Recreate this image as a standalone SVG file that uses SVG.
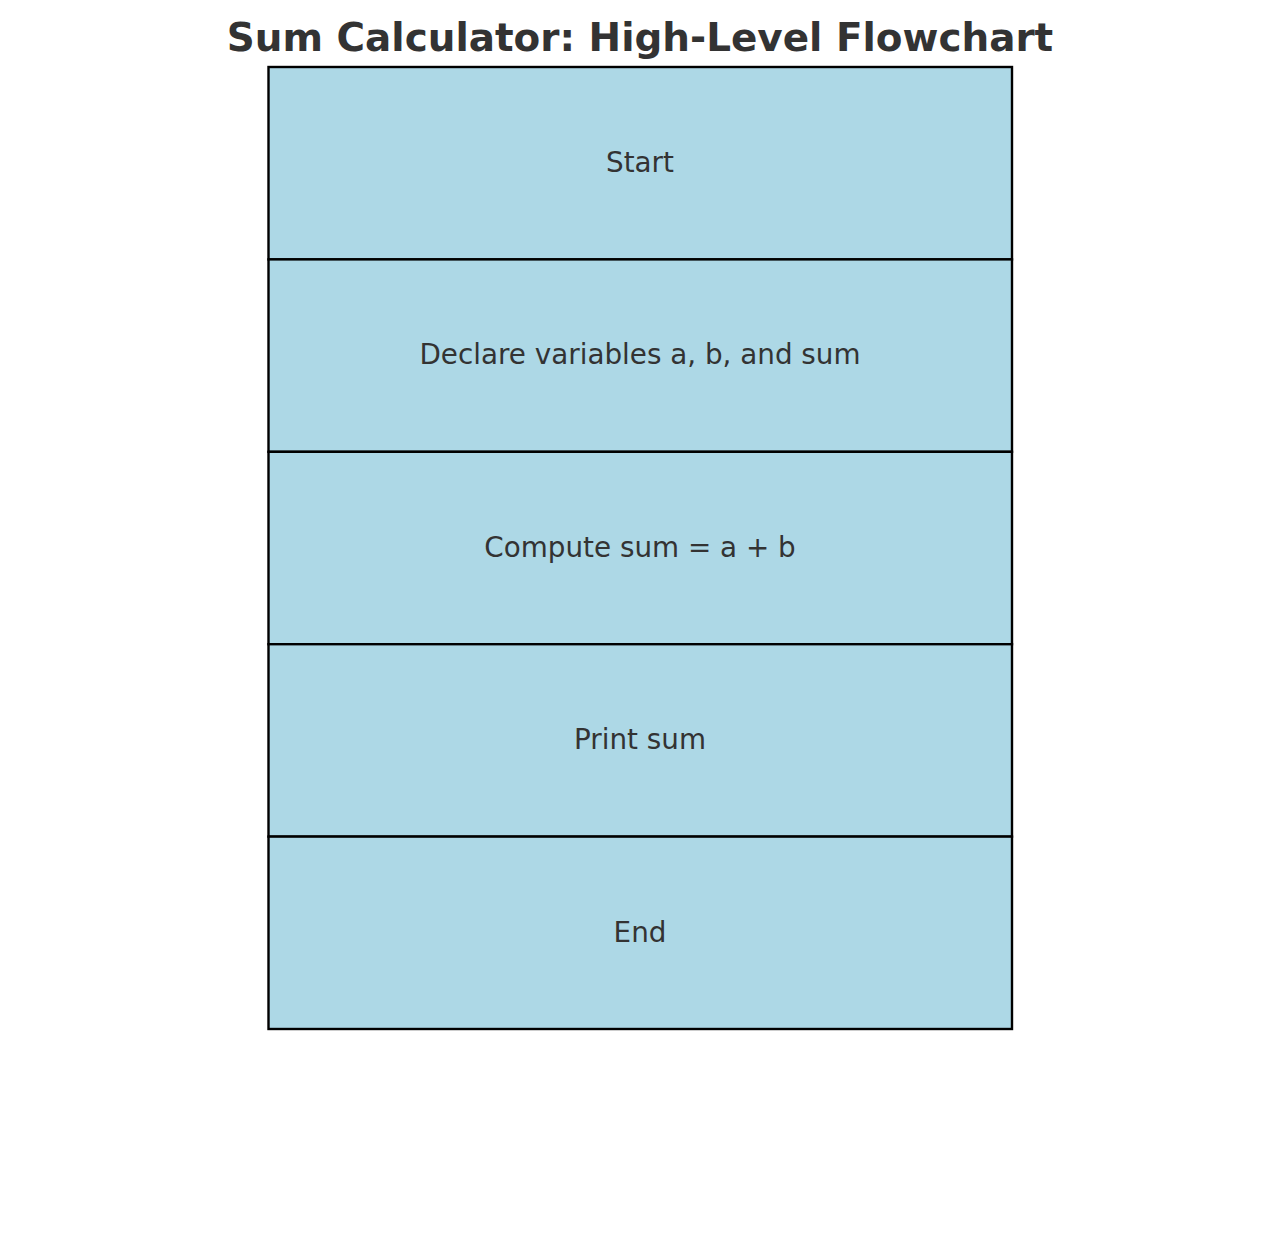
<svg xmlns="http://www.w3.org/2000/svg" width="1280" height="1241" viewBox="0 0 1280 1241">
<style>
.box{fill:#ADD8E6;stroke:#000;stroke-width:2.4}
.lbl{font-family:"DejaVu Sans",sans-serif;font-size:27.8px;fill:#333;text-anchor:middle}
.title{font-family:"DejaVu Sans",sans-serif;font-size:38.9px;font-weight:bold;fill:#333;text-anchor:middle}
</style>
<rect width="1280" height="1241" fill="#fff"/>
<text class="title" x="640" y="50.5">Sum Calculator: High-Level Flowchart</text>
<g id="connectors"></g>
<g id="start"><rect class="box" x="268.5" y="67" width="743.5" height="192.4"/><text class="lbl" x="640" y="171.9">Start</text></g>
<g id="declare"><rect class="box" x="268.5" y="259.4" width="743.5" height="192.4"/><text class="lbl" x="640" y="364.3">Declare variables a, b, and sum</text></g>
<g id="compute"><rect class="box" x="268.5" y="451.8" width="743.5" height="192.4"/><text class="lbl" x="640" y="556.7">Compute sum = a + b</text></g>
<g id="print"><rect class="box" x="268.5" y="644.2" width="743.5" height="192.4"/><text class="lbl" x="640" y="749.1">Print sum</text></g>
<g id="end"><rect class="box" x="268.5" y="836.6" width="743.5" height="192.4"/><text class="lbl" x="640" y="941.5">End</text></g>
</svg>
